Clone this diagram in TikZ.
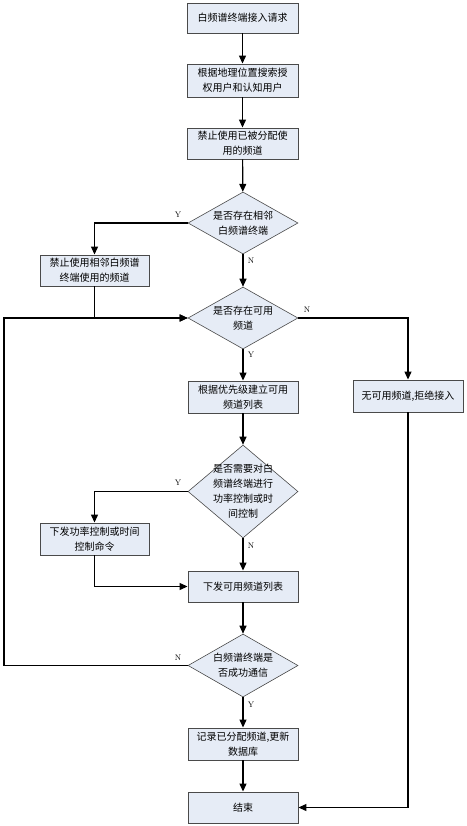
\documentclass[tikz,border=0pt]{standalone}
\usepackage{fontspec}
\newfontfamily\cjk{Noto Sans CJK SC}
\usetikzlibrary{arrows.meta,shapes.geometric}
\definecolor{boxfill}{HTML}{E6ECF6}
\definecolor{boxline}{HTML}{4A4A4A}
\tikzset{
  px/.style={x=1pt,y=-1pt},
  procbox/.style={draw=boxline, line width=0.9pt, fill=boxfill, rectangle,
    minimum width=110pt, minimum height=31pt, inner sep=1pt, align=center,
    font=\cjk\fontsize{10}{15}\selectfont},
  decision/.style={draw=boxline, line width=0.6pt, fill=boxfill, diamond,
    minimum width=110pt, minimum height=62pt, inner sep=0pt},
  dtext/.style={align=center, inner sep=0pt, font=\cjk\fontsize{10}{15}\selectfont},
  flow/.style={draw=black, line width=1.2pt, -{Triangle[length=8pt,width=7pt]}},
  yn/.style={font=\fontsize{8}{9}\selectfont, inner sep=0pt}
}
\begin{document}
\begin{tikzpicture}[px]
\useasboundingbox (0,0) rectangle (466,826);
% boxes
\node[procbox, minimum width=111pt, minimum height=30pt] (b1) at (242.5,18) {白频谱终端接入请求};
\node[procbox, minimum width=111pt, minimum height=33pt] (b2) at (242.5,80.5) {根据地理位置搜索授\\权用户和认知用户};
\node[procbox, minimum width=111pt] (b3) at (242.5,143.5) {禁止使用已被分配使\\用的频道};
\node[decision] (d1) at (243,223) {};
\node[dtext] (t1) at (d1.center) {是否存在相邻\\白频谱终端};
\node[procbox, minimum width=109pt] (bl1) at (94.5,270.5) {禁止使用相邻白频谱\\终端使用的频道};
\node[decision] (d2) at (243,318) {};
\node[dtext] (t2) at (d2.center) {是否存在可用\\频道};
\node[procbox, minimum height=32pt] (br) at (408,396) {无可用频道,拒绝接入};
\node[procbox, minimum height=32pt] (b4) at (243,397) {根据优先级建立可用\\频道列表};
\node[decision, minimum height=93pt] (d3) at (243,491.5) {};
\node[dtext] (t3) at (d3.center) {是否需要对白\\频谱终端进行\\功率控制或时\\间控制};
\node[procbox, minimum width=109pt, minimum height=32pt] (bl2) at (94.5,539) {下发功率控制或时间\\控制命令};
\node[procbox] (b5) at (243,586.5) {下发可用频道列表};
\node[decision, minimum height=63pt] (d4) at (243,665.5) {};
\node[dtext] (t4) at (d4.center) {白频谱终端是\\否成功通信};
\node[procbox, minimum height=32pt] (b6) at (243,744) {记录已分配频道,更新\\数据库};
\node[procbox] (b7) at (243,807.5) {结束};
\coordinate (loopa) at (4,665.5);
\coordinate (loopb) at (4,318);
% connectors
\draw[flow] (b1) -- (b2);
\draw[flow] (b2) -- (b3);
\draw[flow] (b3) -- (d1);
\draw[flow] (d1.west) -| (bl1.north);
\draw[flow] (d1.south) -- (d2.north);
\draw[flow] (bl1.south) |- (d2.west);
\draw[flow] (d2.east) -| (br.north);
\draw[flow] (d2.south) -- (b4.north);
\draw[flow] (b4) -- (d3.north);
\draw[flow] (d3.west) -| (bl2.north);
\draw[flow] (d3.south) -- (b5.north);
\draw[flow] (bl2.south) |- (b5.west);
\draw[flow] (b5) -- (d4.north);
\draw[flow] (d4.west) -- (loopa) -- (loopb) -- (d2.west);
\draw[flow] (d4.south) -- (b6.north);
\draw[flow] (b6) -- (b7);
\draw[flow] (br.south) |- (b7.east);
% labels
\node[yn] (y1) at (178,215) {Y};
\node[yn] (n1) at (251,261) {N};
\node[yn] (n2) at (307,310) {N};
\node[yn] (y2) at (251,355) {Y};
\node[yn] (y3) at (178,483) {Y};
\node[yn] (n3) at (251,546) {N};
\node[yn] (n4) at (178,658) {N};
\node[yn] (y4) at (251,705) {Y};
\end{tikzpicture}
\end{document}
